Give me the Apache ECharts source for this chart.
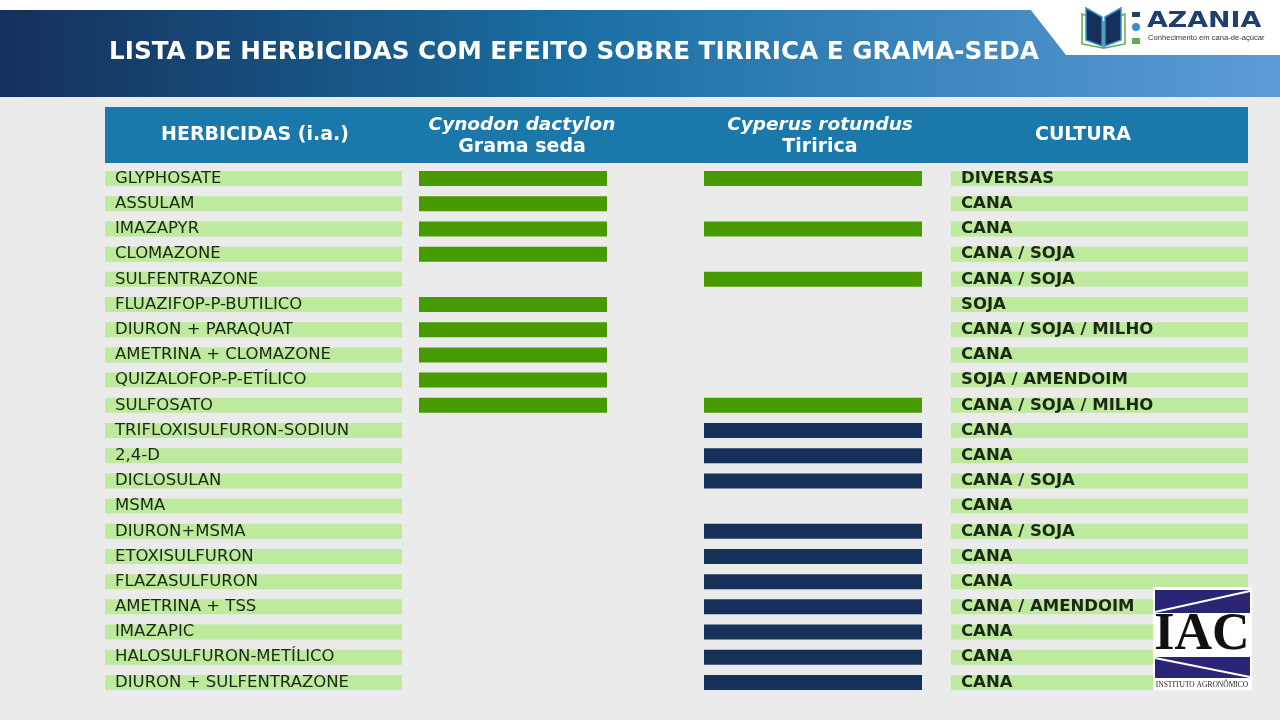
<!DOCTYPE html>
<html>
<head>
<meta charset="utf-8">
<script src="https://cdn.jsdelivr.net/npm/echarts@6/dist/echarts.min.js"></script>
<style>
  html, body { margin: 0; padding: 0; background: #ebebeb; }
  #chart { width: 1280px; height: 720px; }
</style>
</head>
<body>
<div id="chart"></div>
<script>
// herbicidas (linhas da tabela)
const herbicidas = [
  'GLYPHOSATE', 'ASSULAM', 'IMAZAPYR', 'CLOMAZONE', 'SULFENTRAZONE',
  'FLUAZIFOP-P-BUTILICO', 'DIURON + PARAQUAT', 'AMETRINA + CLOMAZONE',
  'QUIZALOFOP-P-ETÍLICO', 'SULFOSATO', 'TRIFLOXISULFURON-SODIUN', '2,4-D',
  'DICLOSULAN', 'MSMA', 'DIURON+MSMA', 'ETOXISULFURON', 'FLAZASULFURON',
  'AMETRINA + TSS', 'IMAZAPIC', 'HALOSULFURON-METÍLICO', 'DIURON + SULFENTRAZONE'
];
// efeito sobre Cynodon dactylon (1 = sim)
const gramaSeda = [1, 1, 1, 1, 0, 1, 1, 1, 1, 1, 0, 0, 0, 0, 0, 0, 0, 0, 0, 0, 0];
// efeito sobre Cyperus rotundus (1 = grupo verde, 2 = grupo azul, 0 = não)
const tiririca = [1, 0, 1, 0, 1, 0, 0, 0, 0, 1, 2, 2, 2, 0, 2, 2, 2, 2, 2, 2, 2];
const cultura = [
  'DIVERSAS', 'CANA', 'CANA', 'CANA / SOJA', 'CANA / SOJA', 'SOJA',
  'CANA / SOJA / MILHO', 'CANA', 'SOJA / AMENDOIM', 'CANA / SOJA / MILHO',
  'CANA', 'CANA', 'CANA / SOJA', 'CANA', 'CANA / SOJA', 'CANA', 'CANA',
  'CANA / AMENDOIM', 'CANA', 'CANA', 'CANA'
];

const LIGHT = '#bdea9c';
const GREEN = '#479a00';
const NAVY = '#17305a';
const TXT = '#1c2816';

const chart = echarts.init(document.getElementById('chart'));

const cols = [
  { left: 105, width: 297 },
  { left: 419, width: 188 },
  { left: 704, width: 218 },
  { left: 951, width: 297 }
];

const grid = cols.map(c => ({ left: c.left, width: c.width, top: 166, height: 529 }));
const xAxis = cols.map((c, i) => ({ type: 'value', gridIndex: i, min: 0, max: 1, show: false }));
const yAxis = cols.map((c, i) => ({
  type: 'category', gridIndex: i, data: herbicidas, inverse: true, show: false
}));

const labelFont = { fontFamily: 'DejaVu Sans', fontSize: 16.5, color: TXT };

const series = [
  {
    type: 'bar', xAxisIndex: 0, yAxisIndex: 0, barWidth: 15, silent: true,
    data: herbicidas.map(() => 1),
    itemStyle: { color: LIGHT },
    label: {
      show: true, position: 'insideLeft', distance: 10, ...labelFont,
      formatter: p => p.name
    }
  },
  {
    type: 'bar', xAxisIndex: 1, yAxisIndex: 1, barWidth: 15, silent: true,
    data: gramaSeda.map(v => (v ? 1 : null)),
    itemStyle: { color: GREEN }
  },
  {
    type: 'bar', xAxisIndex: 2, yAxisIndex: 2, barWidth: 15, silent: true,
    data: tiririca.map(v => ({ value: v ? 1 : null, itemStyle: { color: v === 2 ? NAVY : GREEN } }))
  },
  {
    type: 'bar', xAxisIndex: 3, yAxisIndex: 3, barWidth: 15, silent: true,
    data: cultura.map(() => 1),
    itemStyle: { color: LIGHT },
    label: {
      show: true, position: 'insideLeft', distance: 10, ...labelFont, fontWeight: 'bold',
      fontSize: 16.5, formatter: p => cultura[p.dataIndex]
    }
  }
];

const headFont = 'bold 19px "DejaVu Sans"';
const headItalic = 'italic bold 18.5px "DejaVu Sans"';
const headText = (x, y, text, font) => ({
  type: 'text', x, y, silent: true,
  style: { text, font, fill: '#fff', align: 'center', verticalAlign: 'middle' }
});

const zTop = 100; // logo IAC acima das barras
const graphic = [
  { type: 'rect', shape: { x: 0, y: 0, width: 1280, height: 10 }, style: { fill: '#fff' }, silent: true },
  // faixa do título
  {
    type: 'rect', shape: { x: 0, y: 10, width: 1280, height: 87 }, silent: true,
    style: {
      fill: new echarts.graphic.LinearGradient(0, 0, 1, 0, [
        { offset: 0, color: '#15305a' },
        { offset: 0.45, color: '#1a6fa3' },
        { offset: 1, color: '#5c9cd6' }
      ])
    }
  },
  {
    type: 'polygon', silent: true,
    shape: { points: [[1030, 9], [1280, 9], [1280, 55], [1066, 55]] },
    style: { fill: '#fff' }
  },
  {
    type: 'text', x: 109, y: 53, silent: true,
    style: {
      text: 'LISTA DE HERBICIDAS COM EFEITO SOBRE TIRIRICA E GRAMA-SEDA',
      font: 'bold 24.7px "DejaVu Sans"', fill: '#fff', verticalAlign: 'middle'
    }
  },
  // logo AZANIA
  {
    type: 'polygon', silent: true,
    shape: { points: [[1082, 14], [1103, 22], [1103, 48], [1082, 44]] },
    style: { fill: 'none', stroke: '#5ab04a', lineWidth: 1.5 }
  },
  {
    type: 'polygon', silent: true,
    shape: { points: [[1125, 14], [1104, 22], [1104, 48], [1125, 44]] },
    style: { fill: 'none', stroke: '#5ab04a', lineWidth: 1.5 }
  },
  {
    type: 'polygon', silent: true,
    shape: { points: [[1086, 8], [1102, 17], [1102, 46], [1086, 40]] },
    style: { fill: '#17305a', stroke: '#3a8fd0', lineWidth: 1.5 }
  },
  {
    type: 'polygon', silent: true,
    shape: { points: [[1121, 8], [1105, 17], [1105, 46], [1121, 40]] },
    style: { fill: '#17305a', stroke: '#3a8fd0', lineWidth: 1.5 }
  },
  { type: 'rect', shape: { x: 1132, y: 12, width: 8, height: 5 }, style: { fill: '#1f3f6e' }, silent: true },
  { type: 'circle', shape: { cx: 1136, cy: 27, r: 4 }, style: { fill: '#3a8fd0' }, silent: true },
  { type: 'rect', shape: { x: 1132, y: 38, width: 8, height: 6 }, style: { fill: '#5ab04a' }, silent: true },
  {
    type: 'text', x: 1147, y: 22, scaleX: 1.28, silent: true,
    style: { text: 'AZANIA', font: 'bold 21px "DejaVu Sans"', fill: '#1f3f6e', verticalAlign: 'middle' }
  },
  {
    type: 'text', x: 1148, y: 38, silent: true,
    style: { text: 'Conhecimento em cana-de-açúcar', font: '7.6px "Liberation Sans"', fill: '#333', verticalAlign: 'middle' }
  },
  // cabeçalho da tabela
  { type: 'rect', shape: { x: 105, y: 107, width: 1143, height: 56 }, style: { fill: '#1a78aa' }, silent: true },
  headText(255, 135, 'HERBICIDAS (i.a.)', headFont),
  headText(522, 125, 'Cynodon dactylon', headItalic),
  headText(522, 147, 'Grama seda', headFont),
  headText(820, 125, 'Cyperus rotundus', headItalic),
  headText(820, 147, 'Tiririca', headFont),
  headText(1083, 135, 'CULTURA', headFont),
  // logo IAC
  { type: 'rect', z: zTop, shape: { x: 1153, y: 587, width: 99, height: 103 }, style: { fill: '#fff' }, silent: true },
  { type: 'rect', z: zTop, shape: { x: 1155, y: 590, width: 95, height: 23 }, style: { fill: '#2b2577' }, silent: true },
  {
    type: 'line', z: zTop, shape: { x1: 1155, y1: 612, x2: 1250, y2: 591 }, silent: true,
    style: { stroke: '#fff', lineWidth: 2 }
  },
  { type: 'rect', z: zTop, shape: { x: 1155, y: 657, width: 95, height: 21 }, style: { fill: '#2b2577' }, silent: true },
  {
    type: 'line', z: zTop, shape: { x1: 1155, y1: 658, x2: 1250, y2: 677 }, silent: true,
    style: { stroke: '#fff', lineWidth: 2 }
  },
  {
    type: 'text', z: zTop, x: 1202, y: 636, silent: true,
    style: { text: 'IAC', font: 'bold 52px "Liberation Serif"', fill: '#111', align: 'center', verticalAlign: 'middle' }
  },
  {
    type: 'text', z: zTop, x: 1202, y: 685, silent: true,
    style: { text: 'INSTITUTO AGRONÔMICO', font: '7.5px "Liberation Serif"', fill: '#222', align: 'center', verticalAlign: 'middle' }
  }
];

chart.setOption({
  backgroundColor: '#ebebeb',
  animation: false,
  grid, xAxis, yAxis, series, graphic
});
</script>
</body>
</html>
